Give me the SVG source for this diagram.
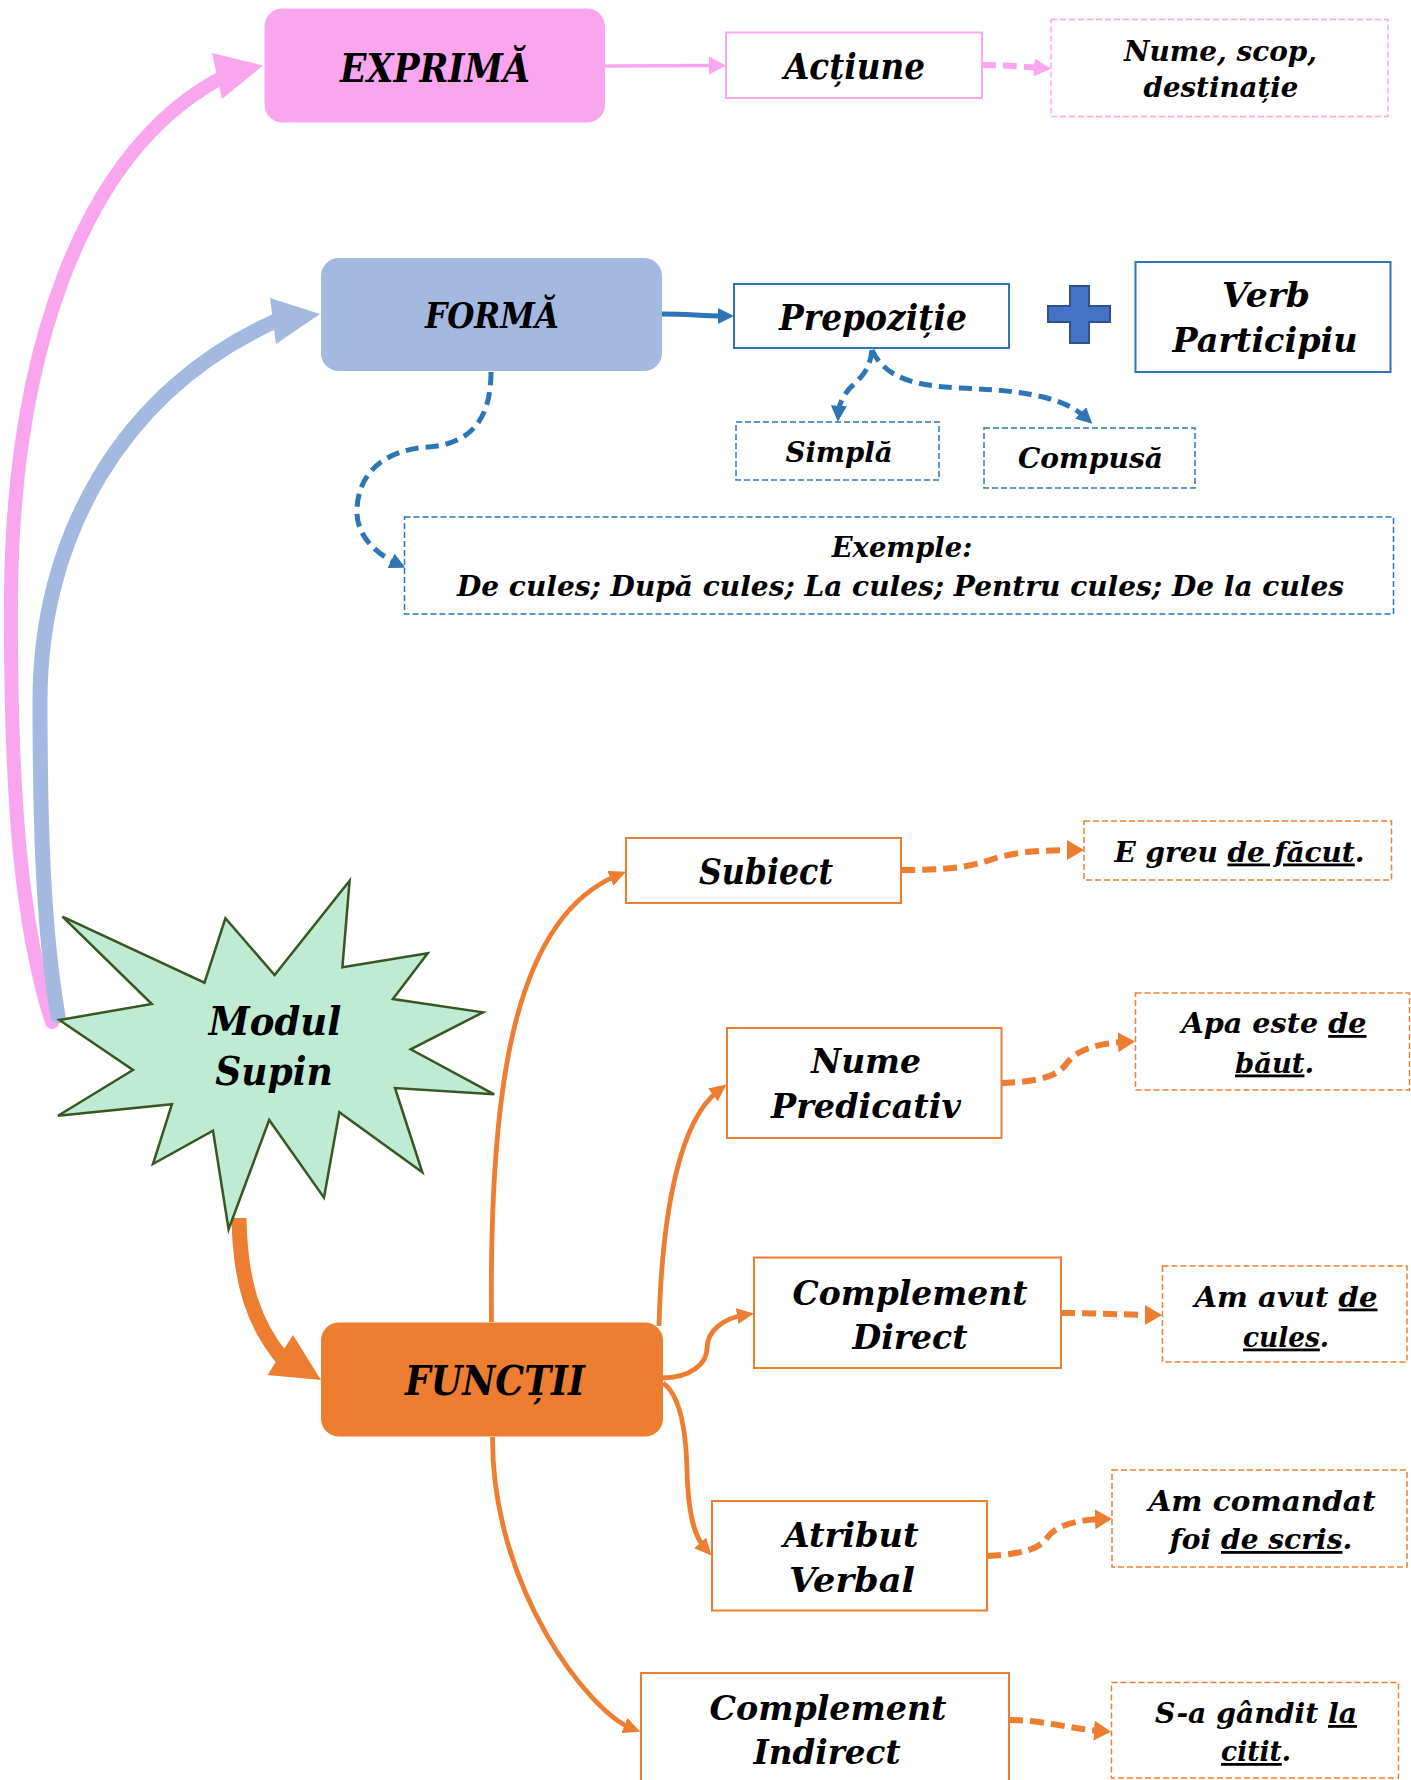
<svg xmlns="http://www.w3.org/2000/svg" width="1411" height="1780" viewBox="0 0 1411 1780">
<defs>
<style>
text { font-family: "DejaVu Serif", "Liberation Serif", serif; font-weight: bold; font-style: italic; fill: #000; text-anchor: middle; }
.u { text-decoration: underline; }
.pbox { fill: #fff; stroke: #F9A6EE; stroke-width: 2; }
.pdash { fill: #fff; stroke: #F9A6EE; stroke-width: 1.5; stroke-dasharray: 6 3; }
.bbox { fill: #fff; stroke: #2E75B6; stroke-width: 2; }
.bdash { fill: #fff; stroke: #2E75B6; stroke-width: 1.5; stroke-dasharray: 6 3; }
.obox { fill: #fff; stroke: #ED7D31; stroke-width: 2; }
.odash { fill: #fff; stroke: #ED7D31; stroke-width: 1.5; stroke-dasharray: 6 3; }
.oline { fill: none; stroke: #ED7D31; stroke-width: 4.8; marker-end: url(#mO); }
.odl { fill: none; stroke: #ED7D31; stroke-width: 6; stroke-dasharray: 14 7; marker-end: url(#mOD); }
.bdl { fill: none; stroke: #2E75B6; stroke-width: 5; stroke-dasharray: 13 7; marker-end: url(#mB); }
</style>
<marker id="mO" markerUnits="userSpaceOnUse" viewBox="0 0 17 16" markerWidth="17" markerHeight="16" refX="7" refY="8" orient="auto"><path d="M0,0 L17,8 L0,16 Z" fill="#ED7D31"/></marker>
<marker id="mOD" markerUnits="userSpaceOnUse" viewBox="0 0 17 20" markerWidth="17" markerHeight="20" refX="7" refY="10" orient="auto"><path d="M0,0 L17,10 L0,20 Z" fill="#ED7D31"/></marker>
<marker id="mB" markerUnits="userSpaceOnUse" viewBox="0 0 16 16" markerWidth="16" markerHeight="16" refX="6" refY="8" orient="auto"><path d="M0,0 L16,8 L0,16 Z" fill="#2E75B6"/></marker>
<marker id="mP" markerUnits="userSpaceOnUse" viewBox="0 0 17 18" markerWidth="17" markerHeight="18" refX="7" refY="9" orient="auto"><path d="M0,0 L17,9 L0,18 Z" fill="#F9A6EE"/></marker>
</defs>
<rect width="1411" height="1780" fill="#fff"/>

<g id="connectors">
  <path d="M52,1022 C22,930 10,800 11,600 C12,360 80,150 225,76" fill="none" stroke="#F9A6EE" stroke-width="14" stroke-linecap="round"/>
  <polygon points="263,65.5 212,53 222,99" fill="#F9A6EE"/>
  <path d="M58,1016 C45,940 40,850 40,700 C40,540 120,390 278,320" fill="none" stroke="#A3B9E0" stroke-width="15" stroke-linecap="round"/>
  <polygon points="320,314 270,298 276,344" fill="#A3B9E0"/>
  <path d="M605,66 L716,65.5" fill="none" stroke="#F9A6EE" stroke-width="3.5" marker-end="url(#mP)"/>
  <path d="M982,65 C1000,65 1015,66 1041,68" fill="none" stroke="#F9A6EE" stroke-width="6" stroke-dasharray="14 7" marker-end="url(#mP)"/>
  <path d="M662,314 C690,314 700,316 724,316" fill="none" stroke="#2E75B6" stroke-width="5" marker-end="url(#mB)"/>
  <path class="bdl" d="M491,372 C491,420 470,444 428,447 C385,450 358,472 357,510 C356,535 375,553 396.5,563.4"/>
  <path class="bdl" d="M872,350 C870,372 858,380 850,388 C843,396 839,404 838.5,411.7"/>
  <path class="bdl" d="M872,350 C885,378 915,386 960,388 C1010,390 1060,394 1085,417"/>
  <path d="M239,1218 C240,1285 255,1325 282,1358" fill="none" stroke="#ED7D31" stroke-width="15"/>
  <polygon points="321,1380 293,1335 267.5,1375" fill="#ED7D31"/>
  <path class="oline" d="M491.5,1322 C489,1100 510,920 616.8,875.6"/>
  <path class="oline" d="M659,1326 C662,1210 680,1120 718.5,1090.6"/>
  <path class="oline" d="M662,1378 C690,1378 707,1364 707,1348 C707,1330 725,1318 744,1315"/>
  <path class="oline" d="M663,1383 C680,1395 686,1430 687,1470 C688,1510 693,1535 704.8,1548"/>
  <path class="oline" d="M492.5,1437 C492,1590 590,1712 631,1728"/>
  <path class="odl" d="M901,870 C950,870 968,867 990,860 C1010,853 1035,850 1074,850"/>
  <path class="odl" d="M1001,1083 C1040,1082 1058,1076 1067,1063 C1077,1049 1100,1043 1125,1042"/>
  <path class="odl" d="M1061,1313 C1100,1313 1130,1315 1152,1315"/>
  <path class="odl" d="M987,1556 C1025,1554 1040,1548 1047,1538 C1055,1526 1075,1520 1102,1519"/>
  <path class="odl" d="M1009,1720 C1045,1720 1070,1729 1101,1731"/>
</g>

<g id="exprima">
  <rect x="264.5" y="8.5" width="340.5" height="114" rx="18" fill="#F9A6EE"/>
  <text x="435" y="82" font-size="40" textLength="190" lengthAdjust="spacingAndGlyphs">EXPRIMĂ</text>
</g>
<g id="actiune">
  <rect class="pbox" x="726" y="32.5" width="256" height="65.5"/>
  <text x="854.5" y="79" font-size="35" textLength="141" lengthAdjust="spacingAndGlyphs">Acțiune</text>
</g>
<g id="nume-scop">
  <rect class="pdash" x="1051" y="19.5" width="337" height="97"/>
  <text x="1220.5" y="60.5" font-size="27" textLength="193" lengthAdjust="spacingAndGlyphs">Nume, scop,</text>
  <text x="1221" y="97" font-size="27" textLength="155" lengthAdjust="spacingAndGlyphs">destinație</text>
</g>

<g id="forma">
  <rect x="321" y="258" width="341" height="113" rx="18" fill="#A3B9E0"/>
  <text x="492" y="328" font-size="36" textLength="134" lengthAdjust="spacingAndGlyphs">FORMĂ</text>
</g>
<g id="prepozitie">
  <rect class="bbox" x="734" y="284" width="275" height="64"/>
  <text x="873" y="330" font-size="35" textLength="188" lengthAdjust="spacingAndGlyphs">Prepoziție</text>
</g>
<g id="plus">
  <path d="M1070,286 H1089 V306 H1110 V322 H1089 V343 H1070 V322 H1048 V306 H1070 Z" fill="#4472C4" stroke="#2F528F" stroke-width="2"/>
</g>
<g id="verb">
  <rect class="bbox" x="1135.5" y="262" width="255" height="110"/>
  <text x="1266" y="307" font-size="34" textLength="88" lengthAdjust="spacingAndGlyphs">Verb</text>
  <text x="1265" y="352" font-size="34" textLength="185" lengthAdjust="spacingAndGlyphs">Participiu</text>
</g>
<g id="simpla">
  <rect class="bdash" x="736" y="422" width="203" height="58"/>
  <text x="839" y="461.5" font-size="28" textLength="107" lengthAdjust="spacingAndGlyphs">Simplă</text>
</g>
<g id="compusa">
  <rect class="bdash" x="984" y="428" width="211" height="60"/>
  <text x="1090.5" y="468" font-size="28" textLength="145" lengthAdjust="spacingAndGlyphs">Compusă</text>
</g>
<g id="exemple">
  <rect class="bdash" x="404.5" y="517" width="989" height="97"/>
  <text x="902" y="557" font-size="28" textLength="140.5" lengthAdjust="spacingAndGlyphs">Exemple:</text>
  <text x="900.5" y="596" font-size="28" textLength="887" lengthAdjust="spacingAndGlyphs">De cules; După cules; La cules; Pentru cules; De la cules</text>
</g>

<g id="modul-supin">
  <polygon points="349.6,880.7 342.4,967.3 427.7,953.3 392.9,999 483,1012.3 410.7,1049.3 494.2,1094.3 395,1088 422.3,1172.3 339.3,1112.3 324,1197.7 269.2,1120 228.6,1229.3 213,1130.7 153,1164 171.9,1104.3 58,1115.7 133,1070 59.4,1020 151.8,1004 62.5,916.7 204.5,982.7 225.4,918.3 274.6,975" fill="#BFEAD3" stroke="#385723" stroke-width="2.5" stroke-linejoin="miter"/>
  <text x="275" y="1035" font-size="40" textLength="132.5" lengthAdjust="spacingAndGlyphs">Modul</text>
  <text x="274" y="1085" font-size="40" textLength="117.5" lengthAdjust="spacingAndGlyphs">Supin</text>
</g>

<g id="functii">
  <rect x="321" y="1322.5" width="342" height="114" rx="18" fill="#ED7D31"/>
  <text x="495" y="1395" font-size="41" textLength="180" lengthAdjust="spacingAndGlyphs">FUNCȚII</text>
</g>
<g id="subiect">
  <rect class="obox" x="626" y="838" width="275" height="65"/>
  <text x="766" y="884" font-size="35" textLength="134" lengthAdjust="spacingAndGlyphs">Subiect</text>
</g>
<g id="ex-subiect">
  <rect class="odash" x="1084" y="821" width="307.5" height="59"/>
  <text x="1239.5" y="861.5" font-size="28" textLength="250" lengthAdjust="spacingAndGlyphs">E greu <tspan class="u">de făcut</tspan>.</text>
</g>
<g id="nume-predicativ">
  <rect class="obox" x="727" y="1028" width="274.5" height="110"/>
  <text x="866" y="1073" font-size="34" textLength="110" lengthAdjust="spacingAndGlyphs">Nume</text>
  <text x="866" y="1118" font-size="34" textLength="190" lengthAdjust="spacingAndGlyphs">Predicativ</text>
</g>
<g id="ex-nume-predicativ">
  <rect class="odash" x="1135.5" y="993" width="274" height="97"/>
  <text x="1274" y="1033" font-size="28" textLength="185" lengthAdjust="spacingAndGlyphs">Apa este <tspan class="u">de</tspan></text>
  <text x="1274.5" y="1072.5" font-size="28" textLength="79" lengthAdjust="spacingAndGlyphs"><tspan class="u">băut</tspan>.</text>
</g>
<g id="complement-direct">
  <rect class="obox" x="754" y="1257.5" width="307" height="110.5"/>
  <text x="910" y="1304.5" font-size="34" textLength="235" lengthAdjust="spacingAndGlyphs">Complement</text>
  <text x="910" y="1348.5" font-size="34" textLength="115" lengthAdjust="spacingAndGlyphs">Direct</text>
</g>
<g id="ex-complement-direct">
  <rect class="odash" x="1162.5" y="1266" width="244.5" height="96"/>
  <text x="1286" y="1306.5" font-size="28" textLength="183" lengthAdjust="spacingAndGlyphs">Am avut <tspan class="u">de</tspan></text>
  <text x="1286" y="1346.5" font-size="28" textLength="86" lengthAdjust="spacingAndGlyphs"><tspan class="u">cules</tspan>.</text>
</g>
<g id="atribut-verbal">
  <rect class="obox" x="712" y="1501" width="275" height="109.5"/>
  <text x="851" y="1547" font-size="34" textLength="135" lengthAdjust="spacingAndGlyphs">Atribut</text>
  <text x="852" y="1592" font-size="34" textLength="126" lengthAdjust="spacingAndGlyphs">Verbal</text>
</g>
<g id="ex-atribut-verbal">
  <rect class="odash" x="1112" y="1470" width="295" height="97"/>
  <text x="1262" y="1511" font-size="28" textLength="227" lengthAdjust="spacingAndGlyphs">Am comandat</text>
  <text x="1261" y="1549" font-size="28" textLength="182.5" lengthAdjust="spacingAndGlyphs">foi <tspan class="u">de scris</tspan>.</text>
</g>
<g id="complement-indirect">
  <rect class="obox" x="641" y="1673" width="368" height="125"/>
  <text x="828" y="1720" font-size="34" textLength="237" lengthAdjust="spacingAndGlyphs">Complement</text>
  <text x="827" y="1764" font-size="34" textLength="147" lengthAdjust="spacingAndGlyphs">Indirect</text>
</g>
<g id="ex-complement-indirect">
  <rect class="odash" x="1111.5" y="1682.5" width="287" height="95.5"/>
  <text x="1256" y="1723" font-size="28" textLength="202" lengthAdjust="spacingAndGlyphs">S-a gândit <tspan class="u">la</tspan></text>
  <text x="1256" y="1761" font-size="28" textLength="70" lengthAdjust="spacingAndGlyphs"><tspan class="u">citit</tspan>.</text>
</g>
</svg>
